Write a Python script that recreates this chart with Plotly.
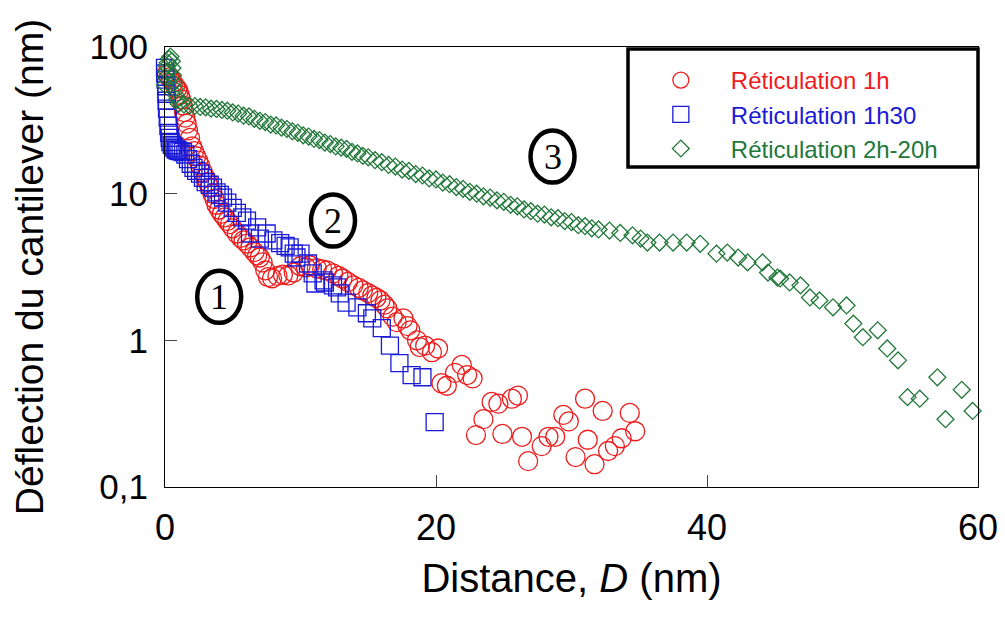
import plotly.graph_objects as go
import math

# ---------------- data ----------------
red_x = [0.15, 0.3, 0.45, 0.6, 0.75, 0.9, 1.0, 1.1, 1.2, 1.3,
         1.4, 1.5, 1.6, 1.7, 1.85, 2.0, 2.15, 2.3, 2.45, 2.6,
         2.8, 3.0, 3.15, 3.3, 3.5, 3.65, 3.8, 4.0, 4.2, 4.4,
         4.6, 4.8, 5.0, 5.3, 5.6, 5.8, 6.05, 6.3, 6.6, 6.8,
         7.0, 7.2, 7.4, 7.6, 7.9, 8.3, 8.7, 9.1, 9.5, 10.0,
         10.4, 10.7, 11.2, 11.6, 11.95, 12.4, 12.8, 13.1, 13.5, 13.9,
         14.3, 14.6, 15.0, 15.3, 15.6, 15.9, 16.2, 16.4, 16.8, 17.1,
         17.6, 17.9, 18.1, 18.6, 18.8, 19.2, 19.7, 20.15, 20.4, 20.8,
         21.4, 21.9, 22.3, 22.7, 22.95, 23.5, 24.1, 24.6, 24.9, 25.6,
         26.05, 26.35, 26.8, 27.8, 28.3, 28.8, 29.4, 29.8, 30.3, 31.0,
         31.2, 31.7, 32.3, 32.7, 33.2, 33.7, 34.3, 34.7]
red_y = [66, 62, 60, 57, 54, 52, 50, 47, 44, 40,
         36, 33, 30, 27, 24, 21, 19.5, 18, 16.8, 15.5,
         14, 12.8, 12, 11, 10, 9.2, 8.4, 7.8, 7.3, 6.9,
         6.5, 6.2, 5.8, 5.35, 5.0, 4.8, 4.57, 4.3, 4.0, 3.8,
         3.67, 3.4, 3.0, 2.7, 2.65, 2.75, 2.8, 2.77, 2.9, 3.2,
         3.15, 3.25, 3.1, 3.05, 3.0, 2.86, 2.75, 2.64, 2.5, 2.37,
         2.28, 2.19, 2.1, 2.02, 1.95, 1.87, 1.75, 1.65, 1.45, 1.33,
         1.41, 1.25, 1.17, 1.0, 0.9, 0.92, 0.83, 0.88, 0.51, 0.49,
         0.6, 0.68, 0.58, 0.55, 0.226, 0.29, 0.38, 0.37, 0.23, 0.40,
         0.42, 0.22, 0.15, 0.19, 0.22, 0.22, 0.31, 0.28, 0.16, 0.40,
         0.21, 0.143, 0.33, 0.176, 0.19, 0.215, 0.32, 0.24]

blue_x = [0.0, 0.02, 0.05, 0.08, 0.1, 0.12, 0.15, 0.2, 0.25, 0.3,
          0.35, 0.4, 0.5, 0.6, 0.7, 0.8, 0.9, 1.0, 1.15, 1.33,
          1.5, 1.7, 1.9, 2.1, 2.3, 2.58, 2.8, 3.0, 3.3, 3.54,
          3.8, 4.05, 4.28, 4.6, 5.0, 5.3, 5.7, 6.05, 6.27, 6.8,
          7.0, 7.5, 8.0, 8.5, 8.9, 9.2, 9.5, 9.7, 10.0, 10.55,
          10.9, 11.1, 11.7, 11.8, 12.4, 12.7, 12.9, 13.4, 14.2, 14.9,
          15.3, 16.0, 16.6, 17.3, 18.2, 19.0, 19.9]
blue_y = [72, 66, 60, 54, 48, 43, 38, 33, 29, 26,
          24, 22.5, 21.5, 21, 20.5, 20, 19.8, 19.6, 19.4, 19.2,
          18.5, 17.2, 16, 15, 14.3, 13.7, 12.8, 12, 11.5, 11,
          10.2, 9.8, 9.4, 8.7, 8, 7.4, 6.9, 6.55, 5.35, 5.9,
          4.94, 5.35, 4.8, 4.6, 4.4, 4.3, 3.9, 3.67, 3.9, 3.34,
          2.86, 2.44, 2.56, 2.48, 2.37, 2.3, 2.09, 1.81, 1.68, 1.53,
          1.41, 1.21, 0.92, 0.70, 0.58, 0.56, 0.277]

green_x = [0.0, 0.05, 0.1, 0.15, 0.2, 0.3, 0.4, 0.5, 0.55, 0.6, 0.65, 0.7, 0.8, 0.9,
           1.0, 1.4, 1.8, 2.2, 2.6, 3.0, 3.4, 3.8, 4.2, 4.6,
           5.0, 5.4, 5.8, 6.2, 6.6, 7.0, 7.4, 7.8, 8.2, 8.6,
           9.0, 9.4, 9.8, 10.2, 10.6, 11.0, 11.4, 11.8, 12.2, 12.6,
           13.0, 13.4, 13.8, 14.2, 14.6, 15.0, 15.5, 16.0, 16.5, 17.0,
           17.5, 18.0, 18.5, 19.0, 19.5, 20.0, 20.5, 21.0, 21.5, 22.0,
           22.5, 23.0, 23.5, 24.0, 24.5, 25.0, 25.5, 26.0, 26.5, 27.0,
           27.5, 28.0, 28.5, 29.0, 29.5, 30.0, 30.5, 31.0, 31.5, 32.0,
           32.8, 33.6, 34.5, 35.1, 35.6, 36.5, 37.5, 38.5, 39.5, 40.7,
           41.5, 42.3, 43.0, 44.1, 44.5, 45.2, 45.4, 46.1, 46.9, 47.6,
           48.3, 49.3, 50.3, 50.8, 51.5, 52.6, 53.3, 54.1, 54.8, 55.7,
           57.0, 57.6, 58.8, 59.6]
green_y = [55, 62, 68, 74, 78, 83, 86, 80, 72, 64, 57, 52, 47, 44,
           41, 40.5, 39.8, 39.6, 39.0, 38.8, 38.0, 37.8, 37.2, 36.8,
           35.8, 35.2, 34.0, 33.6, 32.4, 31.4, 30.8, 29.6, 29.2, 28.2,
           27.6, 26.6, 26.0, 25.0, 24.5, 23.6, 23.2, 22.3, 21.8, 21.0,
           20.6, 20.2, 19.3, 18.8, 18.1, 17.7, 16.9, 16.4, 15.7, 15.3,
           14.6, 14.3, 13.6, 13.3, 12.7, 12.5, 11.9, 11.6, 11.1, 10.8,
           10.3, 10.0, 9.6, 9.4, 9.0, 8.8, 8.4, 8.2, 7.8, 7.6,
           7.3, 7.2, 6.9, 6.8, 6.5, 6.4, 6.1, 6.0, 5.8, 5.7,
           5.6, 5.4, 5.2, 4.94, 4.64, 4.64, 4.64, 4.64, 4.55, 3.9,
           3.97, 3.67, 3.4, 3.4, 2.9, 2.68, 2.64, 2.48, 2.37, 1.96,
           1.87, 1.68, 1.73, 1.3, 1.05, 1.17, 0.88, 0.73, 0.41, 0.40,
           0.56, 0.29, 0.46, 0.33]

series_names = ["Réticulation 1h", "Réticulation 1h30", "Réticulation 2h-20h"]
series_colors = ["#ee1c1c", "#1a1ad6", "#22783a"]

x_range = [0, 60]
y_range_log = [-1, 2]
x_ticks = [0, 20, 40, 60]
y_ticks = [0.1, 1, 10, 100]
y_tick_text = ["0,1", "1", "10", "100"]

# circled region labels: (label, x, y)
region_labels = [("1", 4.0, 1.98), ("2", 12.4, 6.55), ("3", 28.6, 17.9)]

# ---------------- figure ----------------
fig = go.Figure()
symbols = ["circle-open", "square-open", "diamond-open"]
sizes = [19, 17, 13]
data = [(red_x, red_y), (blue_x, blue_y), (green_x, green_y)]
for i, (xs, ys) in enumerate(data):
    fig.add_trace(go.Scatter(
        x=xs, y=ys, mode="markers",
        name='<span style="color:%s">%s</span>' % (series_colors[i], series_names[i]),
        marker=dict(symbol=symbols[i], size=sizes[i], color=series_colors[i],
                    line=dict(width=1.3, color=series_colors[i])),
        cliponaxis=False, legendgroup="g%d" % i,
    ))

shapes = []
annotations = []
for lab, lx, ly in region_labels:
    px = (lx - x_range[0]) / (x_range[1] - x_range[0])
    py = (math.log10(ly) - y_range_log[0]) / (y_range_log[1] - y_range_log[0])
    shapes.append(dict(type="circle", xref="paper", yref="paper", xsizemode="pixel", ysizemode="pixel",
                       xanchor=px, yanchor=py, x0=-22, x1=22, y0=-26, y1=26,
                       line=dict(color="black", width=4.5)))
    annotations.append(dict(x=lx, y=math.log10(ly), xref="x", yref="y", text=lab, showarrow=False,
                            font=dict(family="Liberation Serif", size=36, color="black"),
                            xanchor="center", yanchor="middle"))

# legend frame
shapes.append(dict(type="rect", xref="paper", yref="paper", x0=0.5695, x1=1.0, y0=0.727, y1=0.9955,
                   line=dict(color="black", width=3.5), fillcolor="rgba(0,0,0,0)"))

fig.update_layout(
    width=1005, height=617,
    margin=dict(l=157, r=35, t=39, b=138),
    paper_bgcolor="white", plot_bgcolor="white",
    font=dict(family="Liberation Sans, Arial", color="black"),
    showlegend=True,
    legend=dict(x=0.573, y=0.975, xanchor="left", yanchor="top",
                bgcolor="rgba(0,0,0,0)", borderwidth=0,
                font=dict(size=24), tracegroupgap=0, itemwidth=90),
    shapes=shapes, annotations=annotations,
)
fig.update_xaxes(
    range=x_range, tickvals=x_ticks, ticks="inside", ticklen=12, tickwidth=1, tickcolor="#444",
    showline=True, linecolor="black", linewidth=1.2, mirror=True, showgrid=False, zeroline=False,
    tickfont=dict(size=36), ticklabelstandoff=9, automargin=False,
    title=dict(text="Distance, <i>D</i> (nm)", font=dict(size=40), standoff=16),
)
fig.update_yaxes(
    type="log", range=y_range_log, tickvals=y_ticks, ticktext=y_tick_text,
    ticks="inside", ticklen=12, tickwidth=1, tickcolor="#444",
    showline=True, linecolor="black", linewidth=1.2, mirror=True, showgrid=False, zeroline=False,
    tickfont=dict(size=35), ticklabelstandoff=9, automargin=False,
    title=dict(text="Déflection du cantilever (nm)", font=dict(size=39), standoff=33),
)

fig.write_html("out.html")
